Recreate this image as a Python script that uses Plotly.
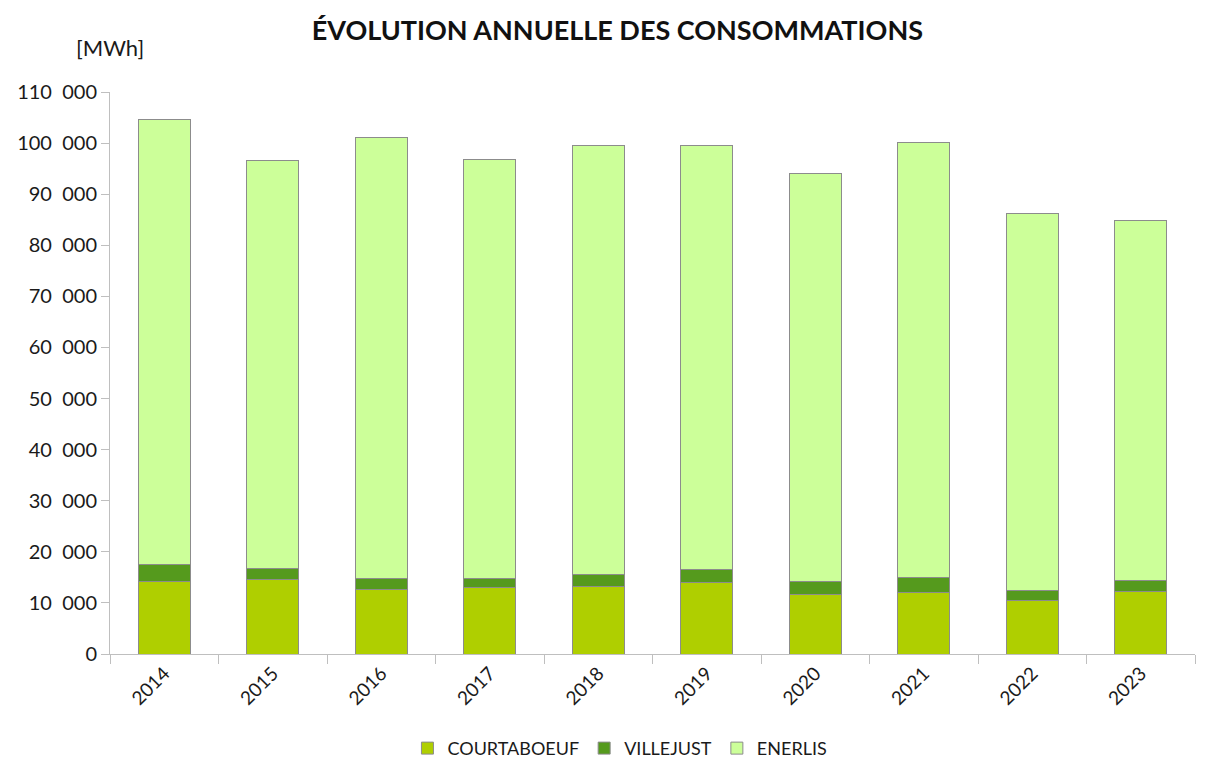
import plotly.graph_objects as go

years = ["2014", "2015", "2016", "2017", "2018", "2019", "2020", "2021", "2022", "2023"]
courtaboeuf = [14200, 14650, 12700, 12950, 13200, 13900, 11700, 12100, 10400, 12200]
villejust = [3250, 2150, 2000, 1900, 2400, 2600, 2400, 2900, 2000, 2200]
enerlis = [87150, 79800, 86400, 81850, 84000, 83000, 79900, 85200, 73900, 70450]

ytick_vals = [0, 10000, 20000, 30000, 40000, 50000, 60000, 70000, 80000, 90000, 100000, 110000]
ytick_text = ["0", "10  000", "20  000", "30  000", "40  000", "50  000", "60  000",
              "70  000", "80  000", "90  000", "100  000", "110  000"]

FONT = "Lato, 'Open Sans', sans-serif"
line = dict(color="#8c8c8c", width=1)

fig = go.Figure()
fig.add_trace(go.Bar(x=years, y=courtaboeuf, name="COURTABOEUF",
                     marker=dict(color="#afcf00", line=line)))
fig.add_trace(go.Bar(x=years, y=villejust, name="VILLEJUST",
                     marker=dict(color="#559a1d", line=line)))
fig.add_trace(go.Bar(x=years, y=enerlis, name="ENERLIS",
                     marker=dict(color="#ccff99", line=line)))

fig.update_layout(
    barmode="stack",
    bargap=0.52,
    width=1213, height=759,
    margin=dict(l=110, r=18, t=92, b=105, autoexpand=False),
    paper_bgcolor="white", plot_bgcolor="white",
    font=dict(family=FONT, color="#1a1a1a", size=18),
    title=dict(text="<b>ÉVOLUTION ANNUELLE DES CONSOMMATIONS</b>",
               x=0.509, xanchor="center", y=0.96, yanchor="middle",
               font=dict(size=27, color="#111111", family=FONT)),
    legend=dict(orientation="h", x=0.47, xanchor="center", y=-0.168, yanchor="middle",
                font=dict(size=18), traceorder="normal", itemwidth=30),
    showlegend=True,
)
fig.add_annotation(text="[MWh]", xref="paper", yref="paper", x=0.0, y=1.08,
                   xanchor="center", yanchor="middle", showarrow=False,
                   font=dict(size=22, family=FONT, color="#1a1a1a"))

fig.update_xaxes(
    type="category", showline=True, linecolor="#bfbfbf", linewidth=1,
    ticks="outside", tickson="boundaries", ticklen=9, tickcolor="#bfbfbf",
    tickangle=-45, showgrid=False, tickfont=dict(size=19), automargin=False,
)
fig.update_yaxes(
    range=[0, 110000], tickvals=ytick_vals, ticktext=ytick_text,
    showline=True, linecolor="#bfbfbf", linewidth=1,
    ticks="outside", ticklen=8, tickcolor="#bfbfbf",
    showgrid=False, zeroline=False, tickfont=dict(size=20), automargin=False,
)

fig.write_html("out.html", config={"displayModeBar": False},
               post_script="document.body.style.margin='0';document.body.style.padding='0';")
